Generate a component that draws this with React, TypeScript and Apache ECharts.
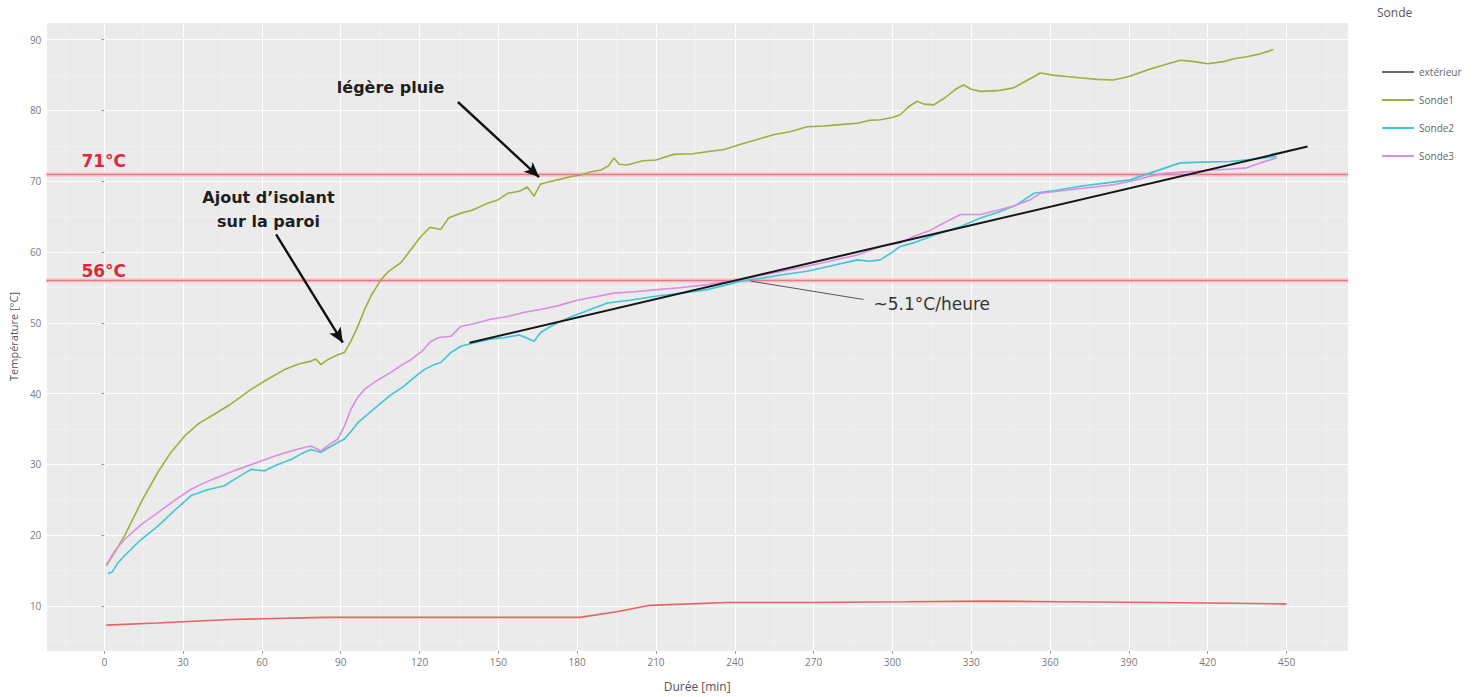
import React, { useEffect, useRef } from "react";
import * as echarts from "echarts";

// Durée [min] / Température [°C] pour chaque sonde
const EXT_MIN = [0.8, 20, 48, 83.5, 130, 181, 195, 207.7, 237, 270, 305, 335, 364, 400, 430, 450];
const EXT_TEMP = [7.3, 7.6, 8.1, 8.4, 8.4, 8.4, 9.2, 10.1, 10.5, 10.5, 10.6, 10.7, 10.6, 10.5, 10.4, 10.3];

const SONDE1_MIN = [
  0.8, 4, 7.7, 14.1, 20.4, 25, 30.5, 36, 41.9, 48, 55.9, 62, 68.6, 74, 78.7, 80.5, 82.5, 85, 88.9, 91.4,
  94, 96.5, 99, 101.5, 105.3, 108, 112.9, 116, 120.5, 124, 128.1, 131, 135.7, 140, 145.9, 150, 153.5, 158,
  161, 163.6, 166, 169, 172.5, 177, 181.4, 185, 189, 192, 194, 196, 199, 205, 210, 216.8, 224, 230, 235.9,
  242, 248.5, 255, 261, 267.5, 274, 280, 286.6, 291, 295.4, 300, 303, 306, 309.4, 312, 315.7, 320, 324,
  327.1, 330, 333.5, 340, 346.1, 351, 356.3, 361, 366.4, 372, 378, 384.1, 390, 396.8, 403, 409.5, 415, 420,
  426, 430, 434.8, 440, 445,
];
const SONDE1_TEMP = [
  15.7, 17.6, 19.9, 24.7, 28.9, 31.5, 34.0, 35.8, 37.1, 38.5, 40.6, 42.0, 43.4, 44.2, 44.6, 44.9, 44.1, 44.8,
  45.5, 45.8, 47.5, 49.5, 51.8, 53.8, 56.1, 57.2, 58.5, 60.0, 62.2, 63.5, 63.2, 64.8, 65.5, 65.9, 66.9, 67.4,
  68.3, 68.6, 69.2, 67.9, 69.6, 69.9, 70.2, 70.6, 70.9, 71.3, 71.6, 72.2, 73.3, 72.4, 72.3, 72.9, 73.0, 73.8,
  73.9, 74.2, 74.5, 75.2, 75.9, 76.6, 77.0, 77.7, 77.8, 78.0, 78.2, 78.6, 78.7, 79.0, 79.4, 80.5, 81.3, 80.9,
  80.8, 81.8, 83.0, 83.6, 83.0, 82.7, 82.8, 83.2, 84.2, 85.3, 85.0, 84.8, 84.6, 84.4, 84.3, 84.8, 85.7, 86.4,
  87.1, 86.9, 86.6, 86.9, 87.3, 87.6, 88.0, 88.6,
];

const SONDE2_MIN = [
  1.4, 3, 5, 7.7, 14, 20.4, 27, 33.1, 39, 45.7, 50, 55.9, 61, 66, 71.1, 75, 78.7, 82.5, 86, 88.9, 91.4, 94,
  96.5, 100, 104.1, 109, 114.2, 118, 121.8, 125, 128.1, 131.9, 135.7, 141, 147.1, 152, 158, 163.6, 166, 169,
  172.5, 178, 185, 191.5, 200, 210.5, 220, 229.5, 236, 242.2, 250, 258, 267.5, 276, 286.6, 291, 295.4, 300,
  303, 308, 316, 326, 334, 340, 347, 353.8, 362, 371.5, 380, 390.5, 400, 409.5, 418, 428.5, 437, 446.2,
];
const SONDE2_TEMP = [
  14.6, 14.8, 16.0, 17.1, 19.4, 21.3, 23.6, 25.6, 26.4, 27.0, 28.0, 29.3, 29.1, 30.0, 30.7, 31.5, 32.1, 31.7,
  32.5, 33.1, 33.6, 34.7, 35.9, 37.0, 38.3, 39.8, 41.1, 42.3, 43.4, 44.0, 44.4, 45.8, 46.7, 47.2, 47.7, 47.9,
  48.3, 47.4, 48.6, 49.3, 50.0, 50.9, 51.9, 52.8, 53.2, 53.8, 54.2, 54.7, 55.3, 55.9, 56.3, 56.8, 57.3, 58.0,
  58.9, 58.7, 58.9, 60.0, 60.8, 61.3, 62.4, 63.6, 64.9, 65.6, 66.6, 68.3, 68.7, 69.3, 69.7, 70.2, 71.4, 72.6,
  72.7, 72.8, 73.1, 73.5,
];

const SONDE3_MIN = [
  0.8, 4, 7.7, 14, 20.4, 27, 33.1, 38, 43.2, 50, 58.4, 65, 71.1, 75, 78.7, 82.5, 86, 88.9, 91.5, 93.9, 96.5,
  99, 104, 109.1, 113, 116.7, 121, 124, 126.9, 131.9, 135.7, 141, 147, 153.5, 160, 166, 172.5, 180, 187, 194,
  202, 210.5, 220, 229.5, 236, 242.2, 250, 258, 267.5, 276, 286.6, 295.4, 303, 308.1, 314, 320, 325.9, 333.5,
  340, 346, 352.5, 356.3, 363, 370, 377, 384.1, 392, 397, 403.2, 410, 416, 422.1, 428, 434.8, 440, 446.2,
];
const SONDE3_TEMP = [
  15.8, 17.8, 19.4, 21.5, 23.2, 25.0, 26.5, 27.4, 28.2, 29.2, 30.3, 31.2, 31.9, 32.3, 32.6, 31.9, 32.9, 33.6,
  35.5, 37.8, 39.5, 40.6, 41.9, 43.0, 44.0, 44.8, 46.0, 47.3, 47.9, 48.1, 49.5, 49.9, 50.5, 50.9, 51.5, 51.9,
  52.4, 53.2, 53.7, 54.2, 54.4, 54.7, 55.0, 55.4, 55.8, 56.1, 56.7, 57.3, 58.0, 58.7, 59.6, 60.8, 61.3, 62.2,
  63.0, 64.2, 65.3, 65.3, 65.9, 66.5, 67.4, 68.3, 68.6, 68.9, 69.2, 69.5, 70.1, 70.6, 71.1, 71.3, 71.4, 71.6,
  71.7, 71.9, 72.6, 73.3,
];

// Droite de tendance (~5.1 °C/heure)
const FIT_MIN = [139, 458];
const FIT_TEMP = [47.2, 74.9];

// Seuils de température
const THRESHOLDS = [71, 56];

const SERIES_NAMES = ["extérieur", "Sonde1", "Sonde2", "Sonde3"];
const SERIES_COLORS = ["#e8625f", "#9fae3c", "#3ec6d6", "#dc8ce4"];

const zip = (xs: number[], ys: number[]) => xs.map((x, i) => [x, ys[i]]);

const ANNOT_FONT = '"DejaVu Sans", Verdana, sans-serif';

export default function App() {
  const ref = useRef<HTMLDivElement>(null);

  useEffect(() => {
    const chart = echarts.init(ref.current!, null, { renderer: "svg" });

    const thresholdLines: any[] = [];
    THRESHOLDS.forEach((t) => {
      thresholdLines.push({ yAxis: t, lineStyle: { color: "#f6d0d4", width: 5, type: "solid" } });
      thresholdLines.push({ yAxis: t, lineStyle: { color: "#e37886", width: 1.3, type: "solid" } });
    });

    const baseLine = (idx: number, xs: number[], ys: number[]) => ({
      name: SERIES_NAMES[idx],
      type: "line",
      data: zip(xs, ys),
      symbol: "none",
      smooth: false,
      lineStyle: { color: SERIES_COLORS[idx], width: 1.6 },
      itemStyle: { color: SERIES_COLORS[idx] },
      z: 3,
    });

    chart.setOption({
      animation: false,
      backgroundColor: "#ffffff",
      textStyle: { fontFamily: '"Open Sans", sans-serif' },
      grid: { left: 45, right: 135, top: 22, bottom: 45, backgroundColor: "#ebebeb", show: true, borderWidth: 0 },
      legend: {
        data: [
          { name: SERIES_NAMES[0], itemStyle: { color: "#6e6e6e" } },
          SERIES_NAMES[1],
          SERIES_NAMES[2],
          SERIES_NAMES[3],
        ],
        orient: "vertical",
        left: 1377,
        top: 61,
        icon: "rect",
        itemWidth: 32,
        itemHeight: 2,
        itemGap: 16,
        textStyle: { color: "#666", fontSize: 10, lineHeight: 12 },
      },
      xAxis: {
        type: "value",
        min: -22.05,
        max: 473.4,
        splitNumber: 16,
        name: "Durée [min]",
        nameLocation: "middle",
        nameGap: 29,
        nameTextStyle: { color: "#555", fontSize: 12 },
        axisLine: { show: false },
        axisTick: { show: true, length: 3, lineStyle: { color: "#9a9a9a" } },
        axisLabel: { color: "#7a7a7a", fontSize: 10, margin: 6, showMinLabel: false, showMaxLabel: false },
        splitLine: { show: true, lineStyle: { color: "#ffffff", width: 1 } },
        minorTick: { show: false, splitNumber: 2 },
        minorSplitLine: { show: true, lineStyle: { color: "#f3f3f3", width: 0.6 } },
      },
      yAxis: {
        type: "value",
        min: 3.65,
        max: 92.5,
        splitNumber: 9,
        name: "Température [°C]",
        nameLocation: "middle",
        nameGap: 24,
        nameTextStyle: { color: "#555", fontSize: 11 },
        axisLine: { show: false },
        axisTick: { show: true, length: 3, lineStyle: { color: "#9a9a9a" } },
        axisLabel: { color: "#7a7a7a", fontSize: 10, margin: 5, showMinLabel: false, showMaxLabel: false },
        splitLine: { show: true, lineStyle: { color: "#ffffff", width: 1 } },
        minorTick: { show: false, splitNumber: 2 },
        minorSplitLine: { show: true, lineStyle: { color: "#f3f3f3", width: 0.6 } },
      },
      series: [
        {
          ...baseLine(0, EXT_MIN, EXT_TEMP),
          markLine: {
            silent: true,
            symbol: "none",
            label: { show: false },
            z: 1,
            data: thresholdLines,
          },
        },
        baseLine(1, SONDE1_MIN, SONDE1_TEMP),
        baseLine(2, SONDE2_MIN, SONDE2_TEMP),
        baseLine(3, SONDE3_MIN, SONDE3_TEMP),
        {
          name: "tendance",
          type: "line",
          data: zip(FIT_MIN, FIT_TEMP),
          symbol: "none",
          lineStyle: { color: "#161616", width: 2 },
          z: 5,
          markLine: {
            silent: true,
            symbol: ["none", "arrow"],
            symbolSize: [10, 15],
            label: { show: false },
            lineStyle: { color: "#111111", width: 2.4, type: "solid" },
            data: [
              [{ coord: [134.6, 81.2] }, { coord: [165.5, 70.6] }],
              [{ coord: [65.4, 62.5] }, { coord: [90.8, 47.2] }],
              [
                { coord: [246, 55.9], symbol: "none", lineStyle: { color: "#555555", width: 1 } },
                { coord: [289, 53.3], symbol: "none", lineStyle: { color: "#555555", width: 1 } },
              ],
            ],
          },
        },
      ],
    });

    const px = (p: number[]) => chart.convertToPixel({ gridIndex: 0 }, p) as number[];

    const pluie = px([109, 83.3]);
    const isolant = px([62.5, 66.0]);
    const pente = px([292.8, 52.6]);
    const lbl71 = px([-8.7, 72.9]);
    const lbl56 = px([-8.7, 57.3]);

    chart.setOption({
      graphic: [
        {
          type: "text",
          left: 1377,
          top: 6,
          style: { text: "Sonde", fill: "#555", font: '12px "Open Sans", sans-serif' },
        },
        {
          type: "text",
          x: pluie[0],
          y: pluie[1],
          style: {
            text: "légère pluie",
            fill: "#1e1e1e",
            font: `bold 16px ${ANNOT_FONT}`,
            align: "center",
            verticalAlign: "middle",
          },
        },
        {
          type: "text",
          x: isolant[0],
          y: isolant[1],
          style: {
            text: "Ajout d’isolant\nsur la paroi",
            fill: "#1e1e1e",
            font: `bold 16px ${ANNOT_FONT}`,
            lineHeight: 24,
            align: "center",
            verticalAlign: "middle",
          },
        },
        {
          type: "text",
          x: pente[0],
          y: pente[1],
          style: {
            text: "~5.1°C/heure",
            fill: "#333333",
            font: `17px ${ANNOT_FONT}`,
            align: "left",
            verticalAlign: "middle",
          },
        },
        {
          type: "text",
          x: lbl71[0],
          y: lbl71[1],
          style: {
            text: "71°C",
            fill: "#e0283c",
            font: `bold 17px ${ANNOT_FONT}`,
            align: "left",
            verticalAlign: "middle",
          },
        },
        {
          type: "text",
          x: lbl56[0],
          y: lbl56[1],
          style: {
            text: "56°C",
            fill: "#e0283c",
            font: `bold 17px ${ANNOT_FONT}`,
            align: "left",
            verticalAlign: "middle",
          },
        },
      ],
    });

    return () => chart.dispose();
  }, []);

  return (
    <div
      ref={ref}
      style={{ position: "fixed", left: 0, top: 0, width: 1483, height: 697, background: "#ffffff" }}
    />
  );
}
